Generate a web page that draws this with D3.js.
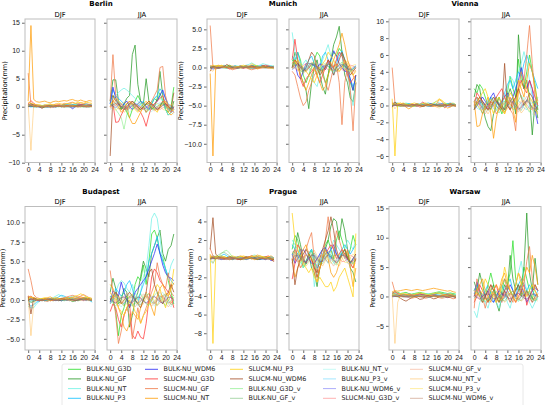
<!DOCTYPE html>
<html><head><meta charset="utf-8">
<script src="https://cdn.jsdelivr.net/npm/d3@7"></script>
<style>
body{margin:0;background:#fff}
svg{display:block;font-family:"DejaVu Sans",sans-serif}
</style></head><body><svg id="chart" width="546" height="405"></svg>
<script>
const hours = [0,1,2,3,4,5,6,7,8,9,10,11,12,13,14,15,16,17,18,19,20,21,22,23]
const seasons = ['DJF', 'JJA']
const cities = ['Berlin', 'Munich', 'Vienna', 'Budapest', 'Prague', 'Warsaw']
const seriesNames = ['BULK-NU_G3D', 'BULK-NU_GF', 'BULK-NU_NT', 'BULK-NU_P3', 'BULK-NU_WDM6',
  'SLUCM-NU_G3D', 'SLUCM-NU_GF', 'SLUCM-NU_NT', 'SLUCM-NU_P3', 'SLUCM-NU_WDM6',
  'BULK-NU_G3D_v', 'BULK-NU_GF_v', 'BULK-NU_NT_v', 'BULK-NU_P3_v', 'BULK-NU_WDM6_v',
  'SLUCM-NU_G3D_v', 'SLUCM-NU_GF_v', 'SLUCM-NU_NT_v', 'SLUCM-NU_P3_v', 'SLUCM-NU_WDM6_v']
const xTicks = [0, 4, 8, 12, 16, 20, 24]

const berlinTicks = [-10, -5, 0, 5, 10, 15]
const munichTicks = [-10, -7.5, -5, -2.5, 0, 2.5, 5]
const viennaTicks = [-6, -4, -2, 0, 2, 4, 6, 8, 10]
const budapestTicks = [-5, -2.5, 0, 2.5, 5, 7.5, 10]
const pragueTicks = [-8, -6, -4, -2, 0, 2, 4]
const warsawTicks = [-5, 0, 5, 10, 15]

// one row per series (same order as seriesNames), one value per hour
const berlinDJF = [
  [.3,.2,.1,.1,0,.1,.2,.1,0,.1,.2,.1,.2,.3,.2,.3,.2,.3,.4,.3,.2,.3,.4,.3],
  [.1,0,.1,.2,.1,-.1,0,.1,.2,.1,0,.1,.2,.1,.3,.2,.1,.2,.3,.2,.1,.2,.3,.2],
  [.2,.4,.3,.2,.1,.2,.3,.2,.1,0,.1,.2,.3,.4,.3,.2,.3,.4,.5,.4,.3,.4,.3,.2],
  [.3,.5,.4,.3,.2,.1,.2,.3,.2,.3,.2,.1,.2,.3,.4,.5,.4,.3,.2,.3,.4,.5,.4,.3],
  [.1,.3,.2,.1,0,.1,0,-.1,0,.1,.2,.1,0,.1,.2,.1,-.4,0,.2,.3,.2,.1,.2,.1],
  [.5,1.1,.6,.3,.2,.1,.2,.1,0,.1,.2,.3,.2,.1,.2,.3,.2,.1,.3,.4,.3,.2,.3,.2],
  [6,.5,.4,.3,.2,.1,.3,.2,.4,.3,.5,.4,.3,.6,.5,.7,.8,.6,.5,.7,.6,.5,.4,.5],
  [1,14.5,1.3,.9,.8,.9,1,.8,.7,.9,1,.9,1,1.1,1,1.2,1.3,1.1,1,1.2,1,.9,1.1,1],
  [.8,.6,.5,.3,.4,.2,.3,.4,.5,.3,.4,.6,.5,.4,.6,.5,.7,.6,.8,.7,.6,.8,.7,.6],
  [.4,.5,.3,.1,0,-.3,0,.1,.2,.1,0,.1,.2,.3,.2,.1,.3,.2,.1,.2,.3,.2,.1,.2],
  [.1,.1,0,0,.1,0,-.1,0,.1,0,0,.1,0,-.1,0,.1,0,0,.1,0,-.1,0,.1,0],
  [0,.1,0,-.1,0,.1,0,0,-.1,0,.1,0,0,.1,0,-.1,0,.1,0,0,.1,0,-.1,0],
  [.2,.1,0,.1,.2,.1,0,-.1,0,.1,0,.1,.2,.1,0,.1,0,-.1,0,.1,.2,.1,0,.1],
  [.1,0,-.1,0,.1,.2,.1,0,.1,0,-.1,0,.1,.1,0,.1,.2,.1,0,.1,0,.1,.2,.1],
  [0,0,.1,0,-.1,0,.1,.1,0,-.1,0,.1,0,.1,0,0,-.1,0,.1,0,.1,0,0,.1],
  [.1,.2,.1,0,.1,0,0,.1,0,-.1,0,.1,.1,0,.1,0,.1,0,-.1,0,.1,0,.1,0],
  [.5,.3,.2,.1,0,.1,0,-.1,.1,0,.1,.2,.1,0,.1,.2,.1,0,.1,.2,.1,0,.1,0],
  [.4,-7.8,.3,0,.2,.1,0,.2,-.2,0,.1,.2,0,.1,.2,.3,.2,.1,0,.1,.2,.1,0,.1],
  [.2,.3,.1,0,.1,.2,.1,0,.1,.2,.1,0,.1,.2,.1,0,.1,.2,.1,0,.1,.2,.1,0],
  [.1,.2,0,.1,0,-.1,0,.1,0,.1,0,.1,0,-.1,0,.1,0,.1,0,.1,0,-.1,0,.1]
]
const berlinJJA = [
  [1,2,1.5,.5,-.5,0,-1,-2,-.5,1,2,1,0,-1,-.5,.5,1.5,1,2.5,1,-.5,-1,0,3.5],
  [1,4.8,4.8,1,-.5,.5,1.5,2,9.3,11,4,1,.5,5,1,-.5,0,1.5,6.3,2,-.5,-1.5,-1,1],
  [.5,1.5,2,2.5,3,3.3,3,2.5,2,1.5,1,.5,0,-.5,0,1,1.5,2,1.5,1,-.5,-1.5,-1,-.5],
  [.5,3,2,1.5,1,.5,0,.5,1,.5,0,.5,1,0,-.5,.5,1.5,2,3.2,2.5,1.5,.5,0,-.5],
  [.5,3.5,1.5,.5,0,.5,1,0,-.5,0,.5,1,.5,0,-.5,0,.5,1,2,3,1.5,0,-.5,-1],
  [0,.5,-2.8,-2.7,-1.5,-.5,.5,1,.5,0,-.5,-1,-2,-3.5,-1.5,0,.5,1,1.5,2,.5,-.5,-1,0],
  [1,9.3,2,1,.5,0,-.5,.5,1,.5,0,-.5,0,-1,0,1,2,3,7,7.2,2,0,-1,-.5],
  [0,1,.5,0,-1,-.5,0,-2,-3,-3,-2,-1,0,.5,1,.5,0,-.5,0,1,.5,-1,-1.5,-1],
  [.5,1,1.5,1,.5,0,.5,1,.5,-.5,-1,0,.5,1,.5,0,-.5,-1,0,.5,1,0,-.5,-.8],
  [-8.8,2,1,.5,0,-.5,0,.5,1,.5,0,-.5,0,.5,1,.5,0,-.5,0,1,.5,0,-.5,2.5],
  [.5,.2,-.5,-1.2,-2,-4,-1.5,0,.4,.3,-.2,-.6,0,.5,.3,-.2,-.4,.1,.3,.6,.2,-.3,-.6,0],
  [.3,.6,.1,-.4,-.2,.1,.5,.7,.2,-.3,-.7,-.2,.4,.5,.1,-.3,-.6,-.1,.4,.7,.1,-.4,-.3,.1],
  [-.6,0,.6,1.1,.4,-.1,-.5,-1,-.4,.2,.6,1,.3,-.1,-.6,-.9,-.3,.1,.5,.9,.2,-.4,-.9,-1.4],
  [.2,.4,.7,.2,-.1,-.3,-.7,-.2,.1,.4,.5,.2,-.1,-.4,-.5,-.2,.2,.5,.7,.3,-.1,-.5,-.7,-.2],
  [.4,.1,-.2,.3,.5,.1,-.3,-.1,.2,.6,.3,-.2,-.5,-.1,.3,.4,0,-.4,-.2,.2,.5,.2,-.3,-.1],
  [-.3,-.1,.3,.6,.2,-.2,-.6,-.3,.1,.4,.2,-.1,-.4,-.2,.2,.5,.3,-.1,-.5,-.2,.1,.4,.2,-.2],
  [.8,1.2,.5,-.2,-.6,-.1,.4,.9,.5,-.1,-.5,-.2,.3,.8,.4,-.3,-.8,-.2,.5,1,.4,-.2,-.7,-.4],
  [.1,.7,1.2,.5,-.4,-1,-.6,.2,.8,.4,-.3,-.8,-.4,.3,.9,.5,-.2,-.7,-.3,.4,.9,.3,-.3,-.6],
  [.3,-.2,-.6,-.2,.4,.8,.3,-.3,-.7,-.1,.5,.7,.2,-.4,-.6,0,.5,.6,.1,-.5,-.6,0,.4,.5],
  [-.2,.3,.6,.4,-.1,-.5,-.3,.2,.6,.3,-.2,-.5,-.1,.4,.6,.2,-.3,-.6,-.2,.3,.5,.1,-.4,-.3]
]
const munichDJF = [
  [0,.1,.2,.1,0,.1,.2,.3,.1,0,.1,.2,.1,0,.1,.2,.3,.2,.1,.2,.1,0,.1,.2],
  [-.1,0,.1,.2,.1,0,-.1,0,.1,.2,.1,0,.1,0,-.1,0,.1,.2,.1,0,.1,.2,.1,0],
  [.2,.1,0,.1,.2,.3,.2,.1,0,.1,.2,.1,.2,.3,.4,.6,.4,.2,.3,.5,.4,.3,.2,.1],
  [.1,0,-.1,0,.1,.2,.1,0,.1,.2,.1,0,-.1,.1,.2,.3,.2,.1,.2,.3,.2,.1,.2,.1],
  [0,-.2,-.1,0,.1,.2,.1,0,-.1,0,.1,.2,.1,.2,.1,0,-.1,0,.1,.2,.1,0,.1,0],
  [.2,.1,0,.1,.2,.1,0,-.2,-.1,0,.1,0,-.1,0,.1,.2,.1,0,.1,.2,.3,.2,.1,0],
  [5.5,0,-.2,-.1,0,.1,0,-.1,-.3,-.2,-.1,0,.1,0,-.2,-.3,-.2,-.1,0,.1,0,-.1,0,-.1],
  [-.8,-11.6,.2,.3,.2,.1,0,.1,.2,.1,0,-.1,0,.1,.2,.1,0,-.2,-.1,0,.1,0,-.1,0],
  [.1,.3,.2,.1,.3,.2,.1,.2,.1,0,.1,.2,.3,.2,.1,.5,.3,.2,.1,.2,.1,0,.1,-.2],
  [-.5,.2,0,-.1,0,.1,.4,.2,.1,0,-.1,0,.1,.2,.1,.2,.1,0,.1,.2,.1,0,.1,0],
  [0,.1,0,-.1,0,.1,.1,0,-.1,0,.1,0,0,.1,0,-.1,0,.1,0,0,.1,0,-.1,0],
  [.1,0,0,.1,0,-.1,0,.1,0,0,-.1,0,.1,0,0,.1,0,-.1,0,.1,0,0,.1,0],
  [0,-.1,0,.1,.1,0,-.1,0,.1,.1,0,-.1,0,.1,0,-.1,0,.1,.1,0,-.1,0,.1,0],
  [.1,.1,0,-.1,0,.1,0,0,.1,0,-.1,0,.1,.1,0,-.1,0,0,.1,0,-.1,0,.1,0],
  [0,0,.1,0,-.1,0,.1,0,0,-.1,0,.1,0,0,.1,0,-.1,0,.1,0,0,.1,0,-.1],
  [-.1,0,.1,0,0,.1,0,-.1,0,.1,0,0,-.1,0,.1,0,.1,0,-.1,0,.1,0,0,.1],
  [.3,.1,0,-.1,0,.1,0,-.1,-.2,-.1,0,.1,0,-.1,0,.1,0,-.1,0,.1,0,-.1,0,0],
  [-.3,-.5,.1,.2,.1,0,.1,0,-.1,0,.1,.2,.1,0,-.1,0,.1,0,.1,0,-.1,0,.1,0],
  [.1,0,.1,.2,.1,0,.1,0,-.1,0,.1,0,.1,.2,.1,0,-.1,0,.1,0,.1,0,-.1,0],
  [0,.1,0,-.1,0,.1,0,.1,0,-.1,0,.1,0,.1,0,-.1,0,.1,0,-.1,0,.1,0,0]
]
const munichJJA = [
  [1,.5,2,1,-1,-2,-1,0,1,2,1.5,-.5,-2,-1,1,2,1.5,2.5,2,1,-.5,-2,-3,-1],
  [0,2,1,-1,-2,-3,-5.4,-2,0,1,-1,-2.5,-3.5,-1,1,3,4,5.4,2,-1,-2,-4,-4.5,-2],
  [4.6,2,1,0,.5,1,0,-1,-2,-2.5,-1,1,2,3,1.5,0,1,2,1.5,0,-1,-3,-5,-2],
  [1.5,1,2,.5,-.5,0,1,1.5,.5,-1,0,1.5,2,1,0,-1,.5,1.5,2.2,1,0,-1.5,-2.5,-1.5],
  [0,.5,-1,-1.5,-.5,.5,.5,.5,.3,0,.5,.2,-.3,.5,1,2.2,1.5,.5,0,-.5,-.5,-1.5,-3,-1],
  [1,3.7,1,-1.5,-2.5,-1.5,-1,-.5,0,-1,-2,-1,0,1,.5,0,1,2,1.5,.5,-1,-2,-1.5,-1],
  [-.5,-1,-2.5,-4,-5,-4.5,-3,-2,-1,-.5,0,-1,-2,-3,-1.5,0,.5,-2,-7.5,-2,0,-3,-8.3,-2],
  [.5,1,0,-1,-2,-3,-2,-1,0,-1,-2,-3,-2.5,-1,0,1,2,3,4.5,3,1,0,-1,-2],
  [0,.5,1,.5,0,-.5,-1,-1.5,-2,-1,0,.5,1,2,1.5,1,0,-.5,0,1,.5,-.5,-1,-.5],
  [0,1,.5,0,-.5,0,1,2,1.5,0,-1,-.5,0,1,0,-1,0,1,2,1,0,-1,-.5,0],
  [.3,.6,.2,-.4,-.7,-.2,.3,.6,.1,-.3,-.5,.1,.4,.2,-.3,-.6,-.1,.4,.7,.2,-.3,-.6,-.2,.2],
  [-.2,.1,.5,.3,-.2,-.5,-.1,.4,.6,.1,-.4,-.3,.2,.5,.3,-.2,-.5,0,.4,.3,-.1,-.4,-.2,.1],
  [.5,.2,-.3,-.6,-.2,.3,.7,.3,-.2,-.5,-.1,.4,.6,.1,-.4,-.7,-.2,.3,.5,.1,-.3,-.6,-.1,.3],
  [.1,.4,.2,-.2,-.4,0,.3,.5,.2,-.1,-.4,-.2,.2,.4,.1,-.3,-.5,-.1,.3,.4,0,-.3,-.2,.1],
  [-.3,0,.4,.2,-.1,-.3,.1,.4,.2,-.2,-.3,.1,.3,.2,-.1,-.4,0,.3,.4,.1,-.2,-.3,0,.2],
  [.2,-.1,-.4,-.1,.3,.5,.1,-.3,-.5,-.1,.3,.4,0,-.3,-.2,.2,.4,.1,-.3,-.4,0,.3,.2,-.1],
  [.6,.9,.3,-.3,-.8,-.4,.2,.7,.4,-.2,-.7,-.3,.3,.8,.4,-.2,-.6,-.1,.5,.9,.3,-.4,-.9,-.3],
  [-.2,.4,.8,.3,-.3,-.6,-.1,.5,.8,.2,-.4,-.7,-.2,.4,.7,.2,-.3,-.6,0,.6,.8,.1,-.5,-.4],
  [.4,.1,-.3,-.5,0,.4,.6,.1,-.4,-.5,0,.4,.5,0,-.4,-.3,.2,.5,.3,-.2,-.5,-.1,.3,.4],
  [0,.3,.5,.1,-.3,-.4,0,.3,.4,0,-.3,-.4,.1,.4,.3,-.1,-.4,-.2,.2,.5,.2,-.2,-.4,-.1]
]
const viennaDJF = [
  [.1,.2,.1,0,.1,.2,.1,0,-.1,0,.1,.2,.1,0,.1,.2,.1,0,.1,.2,.1,0,.1,.1],
  [0,.1,0,-.1,0,.1,.2,.1,0,.1,0,-.1,0,.1,.2,.1,0,-.1,0,.1,.2,.1,0,0],
  [.2,.4,.3,.1,.2,.3,.2,.1,0,.1,.2,.3,.2,.1,.2,.3,.5,.3,.2,.3,.2,.1,.2,.1],
  [.1,.3,.2,.1,0,.1,.2,.1,0,-.1,0,.1,.2,.3,.2,.1,.2,.1,0,.1,.2,.3,.2,.1],
  [0,.1,0,.1,.2,.1,0,-.1,0,.1,0,-.1,0,.1,.2,.1,0,.1,.2,.1,0,-.1,0,.1],
  [.3,.1,0,.1,.2,.1,0,.1,0,-.1,.1,.4,.2,0,-.1,0,.1,.2,.1,-.2,0,.2,.1,0],
  [4.5,.3,.1,0,-.1,0,.1,.2,.1,0,-.2,-.1,0,.1,0,-.1,0,.2,.1,-.3,0,.1,0,-.1],
  [.2,.1,.2,.3,.1,-.2,-.4,-.2,0,.1,0,-.1,0,.1,0,-.1,.2,.7,.5,0,-.3,-.2,0,.1],
  [.8,-6,.3,.2,.3,.1,0,.2,.3,.2,.1,.2,.3,.2,.1,.3,.5,.8,.6,.3,.1,.2,.3,.1],
  [-.2,.4,.1,0,.1,0,-.1,0,.1,.2,.1,0,.1,0,-.1,0,.1,0,-.1,0,.1,.2,.1,0],
  [.1,0,-.1,0,.1,.1,0,-.1,0,.1,0,.1,0,-.1,0,.1,.1,0,-.1,0,.1,0,.1,0],
  [0,.1,.1,0,-.1,0,.1,0,0,.1,0,-.1,0,.1,0,0,.1,0,-.1,0,.1,.1,0,-.1],
  [.1,.2,.1,0,.1,0,-.1,0,.1,.2,.1,0,.1,0,-.1,0,.1,.2,.1,0,.1,0,-.1,0],
  [0,.1,0,.1,0,-.1,0,.1,0,.1,.2,.1,0,-.1,0,.1,0,.1,0,-.1,0,.1,.2,.1],
  [-.1,0,.1,0,.1,0,-.1,0,.1,0,0,.1,0,-.1,0,.1,0,0,.1,0,-.1,0,.1,0],
  [.1,0,0,.1,0,-.1,0,.1,.1,0,-.1,0,.1,0,.1,0,-.1,0,.1,0,0,.1,0,-.1],
  [.4,.2,0,-.1,0,.1,0,-.1,0,.1,0,-.1,0,.1,.2,.1,0,-.1,0,.1,0,-.1,0,.1],
  [.3,-.4,.1,0,.1,0,-.1,0,.1,.2,.1,0,-.1,0,.1,0,-.2,-.3,-.1,0,.1,0,-.1,0],
  [.1,.2,.1,0,.1,.2,.1,0,-.1,0,.1,.2,.1,0,.1,0,-.1,0,.1,.2,.1,0,.1,0],
  [0,.1,0,.1,0,-.1,0,.1,0,.1,0,-.1,0,.1,0,.1,0,-.1,0,.1,0,.1,0,-.1]
]
const viennaJJA = [
  [2,1.5,2.5,2,1,0,-.5,.5,1,0,-1,0,1.5,3.5,2,1,5.5,3,2,4,6,4,2.5,-.5],
  [1,2.5,2,0,-1.5,-2.5,-3,-1,0,1,0,-.5,1,2,1,-1,8.4,4,2,3,1,-3.5,.5,-1.5],
  [-.5,1,.5,0,-.5,0,.5,1,0,-.5,0,1,2,3.5,3,2,4,5,6.4,5,3,1,-.5,1],
  [.5,1,.5,-.5,0,.5,1,.5,0,-.5,.5,1.5,2.5,3,2,3,4,3.5,5,6,5,4,3,2],
  [-.5,0,.5,1,.5,0,1,1.5,.5,0,.5,1,1.5,.5,1,2,3,4.5,3,2,3,2,-.5,-2.2],
  [0,1.5,1,.5,0,-.5,0,.5,1,1.5,2,1,0,-.5,0,1,2,3,2,1.5,3,2,1,0],
  [.5,1,0,-1,-.5,0,.5,0,-1,-.5,.5,1,.5,-.5,-1,-3,2,4,3,6,9.5,5,1,0],
  [.5,-2.5,-2.4,-1,0,1,-1,-3.9,-1.5,0,-.5,-1,0,1,-.5,-2,3,2,1,3,5,4,2,.5],
  [-.5,0,1,1.5,2,1,0,-1,.5,1,0,-1,.5,1.5,1,0,1.5,2.5,3,2,1,.5,-.5,-1],
  [-.5,.5,1,.5,0,-.5,.5,1,.5,0,-.5,5,0,-.5,.5,1,2,1,0,.5,1.5,1,0,-.5],
  [.5,.2,-.4,-.9,-.3,.4,.8,.2,-.5,-.9,-.2,.5,.7,.1,-.5,-.3,.6,1.2,.5,-.3,-.8,-.1,.6,.3],
  [-.3,.2,.6,.3,-.2,-.6,-.3,.4,.7,.2,-.4,-.7,-.1,.5,.8,.2,-.3,-.6,.1,.7,.4,-.3,-.8,-.4],
  [.2,.6,.3,-.3,-.8,-.4,.2,.6,.3,-.2,-.5,0,.5,.8,.3,-.3,-.6,.2,1,.6,-.2,-1,-1.4,-.5],
  [.1,-.3,-.5,0,.4,.6,.1,-.4,-.6,-.1,.4,.5,.1,-.3,-.2,.3,.6,.2,-.3,-.5,0,.4,.3,-.1],
  [-.4,-.1,.3,.5,.1,-.3,-.4,.1,.4,.3,-.2,-.5,-.1,.3,.5,.1,-.4,-.3,.2,.6,.3,-.2,-.4,0],
  [.3,.5,.1,-.3,-.5,0,.4,.3,-.1,-.4,-.2,.3,.5,.2,-.2,-.5,-.1,.4,.6,.1,-.4,-.5,0,.3],
  [.7,1,.4,-.4,-1,-.5,.3,.8,.5,-.2,-.7,-.3,.4,.9,.5,-.3,-.8,-.2,.6,1.1,.4,-.5,-1.2,-.6],
  [-.3,.5,.9,.3,-.5,-1,-.4,.3,.9,.4,-.3,-.8,-.4,.3,1,.6,-.2,-.9,-.5,.2,.8,.4,-.4,-.8],
  [.5,.1,-.4,-.6,-.1,.5,.7,.2,-.4,-.6,0,.5,.6,.1,-.4,-.4,.2,.6,.4,-.2,-.6,-.2,.4,.5],
  [-.1,.3,.6,.2,-.3,-.5,-.1,.4,.5,0,-.4,-.4,.2,.5,.3,-.2,-.5,-.1,.3,.6,.2,-.3,-.5,-.2]
]
const budapestDJF = [
  [.2,.3,.2,.1,0,.1,.2,.1,0,-.1,0,.1,.2,.1,.2,.3,.2,.1,0,.1,.2,.3,.2,.1],
  [0,-.3,-.2,0,.1,0,-.1,0,.1,.2,.1,0,-.1,0,.1,0,-.2,-.1,0,.1,0,.2,.1,0],
  [-.8,-1,-1,-.5,-.2,0,.1,0,.2,.3,.5,.7,.5,.3,.2,.3,.5,.4,.2,.1,.3,.2,0,-.2],
  [-.5,-.8,-.6,-.3,-.1,0,-.1,0,.1,0,.2,.4,.6,.5,.3,.2,.1,.2,.3,.2,.1,0,.1,-.3],
  [0,.2,.1,0,-.1,0,.1,.2,.1,0,.1,0,-.1,0,.1,.2,.1,0,.1,.2,.1,0,.1,0],
  [.3,.5,.2,0,-.1,0,.1,0,-.1,0,.1,.2,.1,0,.1,.2,.3,.2,.1,.2,.3,.2,.1,0],
  [4,2.5,.7,.3,.2,0,-.1,-.2,0,.1,0,.1,.2,.3,.4,.5,.6,.5,.4,.5,.7,.5,.3,.2],
  [.5,.3,.2,.1,0,.1,.2,.3,.4,.2,.1,0,.1,.2,.3,.2,.1,.2,.3,.4,.3,.2,.1,0],
  [.2,.4,.3,.2,.1,.2,.3,.2,.1,.2,.3,.2,.1,0,.1,.2,.3,.5,.6,.8,.6,.4,.3,.2],
  [.5,-1.8,.3,.1,0,-.1,0,.1,.2,.1,0,.1,.2,.1,0,.1,0,-.1,0,.1,.2,.1,0,.1],
  [.1,0,-.1,0,.1,.1,0,-.1,0,.1,0,.1,0,-.1,0,.1,.1,0,-.1,0,.1,0,.1,0],
  [0,.1,.1,0,-.1,0,.1,0,0,.1,0,-.1,0,.1,0,0,.1,0,-.1,0,.1,.1,0,-.1],
  [-.3,-.2,0,.1,0,-.1,0,.1,.2,.1,0,.1,0,-.1,0,.1,.2,.1,0,.1,0,-.1,0,.1],
  [-.2,-.1,0,.1,0,.1,0,-.1,0,.1,.2,.1,0,.1,0,-.1,0,.1,0,.1,.2,.1,0,-.1],
  [0,.1,0,-.1,0,.1,0,0,.1,0,-.1,0,.1,0,0,.1,0,-.1,0,.1,0,0,.1,0],
  [.1,0,.1,0,-.1,0,.1,.1,0,-.1,0,.1,0,.1,0,-.1,0,.1,.1,0,-.1,0,.1,0],
  [.6,.3,.1,0,-.1,0,.1,0,-.1,0,.1,0,.1,.2,.1,0,.1,0,-.1,0,.1,0,-.1,0],
  [.3,-4.6,-.5,0,.1,.2,.1,0,.1,.2,.3,.2,.1,.2,.3,.2,.4,.3,.2,.3,.2,.1,0,.1],
  [.1,.2,.1,0,.1,.2,.1,0,-.1,0,.1,.2,.1,0,.1,0,-.1,0,.1,.2,.1,0,.1,0],
  [0,.1,0,.1,0,-.1,0,.1,0,.1,0,-.1,0,.1,0,.1,0,-.1,0,.1,0,.1,0,-.1]
]
const budapestJJA = [
  [.5,0,-1.5,-4.6,-2,-1,.5,-1,0,2,3,2.5,4.5,2,5,8.5,9,8,6,5.5,4,2.5,1,-.5],
  [1,2.8,1.5,-.5,0,1.5,1,-3.5,-2,0,1,3,5,4,3,6,7,8,9,6,5,6.5,7,8.5],
  [0,.5,1,2,2.5,2.2,1.5,1,2,1,0,1,3,4,7,10.5,11.2,10.5,8,5,4,3,4.5,5.3],
  [-.5,0,1.5,1,.5,1,2,2.5,1.5,0,-.5,1,2,3,5,6,7,8.2,6,5,4,3,2.5,2],
  [-.3,1.2,.8,.5,2.3,1,0,-1,0,1,1.5,2,2.5,3,4,5,6,7.2,6,4.5,3.5,3,2.8,2.5],
  [-1.5,-.5,-1,-2.5,-3.5,-2,-1,-.5,-4.5,-5,-4,-4.8,-5,-3,0,3,4,3.5,2.5,2,1.5,1,.5,-1],
  [3.8,1,-2,-5.6,-4,-2,-1,-2,-5,-3,-1,-3,-2,-1,0,1,2,4.8,3,2,1.5,3.5,1,.5],
  [2,1.5,.5,-1,-2,-3.5,-4,-3,-1.5,-2,-2.5,-1,0,1,0,-1,-2,.5,1.5,2,1,.5,1.5,2.2],
  [1,.5,0,-1,-1.5,-2,-1,0,-.5,-1.5,-2,-3,-2,-1.5,-.5,0,1,2,1.5,0,-1,.5,1.5,4],
  [0,.5,1,.5,-.5,0,.5,1,.5,0,-.5,-1,0,1,3.5,4,2,1,0,-.5,.5,1,2,1],
  [.3,-.4,-.8,-.2,.5,.9,.3,-.4,-.8,-.2,.4,.8,.2,-.5,-.7,0,.6,1,.4,-.3,-.7,-.1,.5,.3],
  [-.2,.3,.7,.2,-.4,-.7,-.1,.5,.7,.1,-.5,-.6,0,.6,.8,.2,-.4,-.7,0,.6,.7,0,-.6,-.4],
  [.5,.8,.2,-.5,-.9,-.3,.4,.8,.3,-.4,-.8,-.2,.5,.9,.3,-.3,-.8,-.1,.6,1,.3,-.5,-.9,-.2],
  [-.4,0,.4,.2,-.3,-.5,0,.4,.3,-.2,-.5,-.1,.3,.5,.1,-.3,-.4,.1,.5,.3,-.2,-.4,-.1,.2],
  [.2,-.2,-.4,0,.3,.4,0,-.3,-.3,.1,.4,.2,-.2,-.4,0,.4,.5,.1,-.3,-.4,0,.4,.3,-.1],
  [0,.4,.5,.1,-.3,-.4,0,.4,.4,-.1,-.4,-.2,.2,.5,.3,-.2,-.5,-.1,.4,.5,.1,-.3,-.4,0],
  [.9,.4,-.3,-.8,-.3,.4,.9,.4,-.3,-.9,-.4,.3,.8,.4,-.2,-.8,-.3,.5,1,.5,-.3,-.9,-.4,.3],
  [-.5,.2,.8,.5,-.2,-.8,-.5,.2,.8,.5,-.2,-.9,-.5,.3,.9,.5,-.1,-.7,-.4,.3,.9,.4,-.3,-.7],
  [.2,.5,.2,-.3,-.5,-.1,.4,.5,.1,-.4,-.5,0,.5,.4,-.1,-.5,-.3,.2,.6,.3,-.2,-.5,-.2,.3],
  [.1,-.2,-.4,-.1,.3,.4,.1,-.3,-.4,0,.4,.3,-.1,-.4,-.2,.2,.4,.2,-.2,-.4,-.1,.3,.4,0]
]
const pragueDJF = [
  [.1,.2,.1,0,.1,.2,.1,0,-.1,0,.1,.2,.1,0,.1,.2,.1,0,.1,.2,.1,0,-.1,0],
  [0,.1,0,.1,.2,.1,0,-.1,0,.1,0,-.1,0,.1,.2,.1,0,-.1,0,.1,.2,.1,0,-.1],
  [-.2,-.5,0,.2,.3,.2,.1,0,.1,.2,.1,0,.1,.2,.1,.3,.4,.3,.2,.1,.2,.1,0,-.1],
  [.1,.3,.2,.1,.3,.5,.3,.1,0,.1,.2,.1,0,.1,.2,.1,0,.1,.2,.1,0,.1,.2,.1],
  [0,.2,.1,0,-.1,0,.1,0,-.1,0,.1,0,.1,.2,.1,0,.1,0,-.1,0,.1,0,-.2,-.1],
  [.2,.1,0,.1,.2,.1,0,.1,.2,.1,0,-.1,0,.1,.2,.3,.2,.1,0,.1,.2,.3,.1,-.2],
  [1.1,.3,.2,.1,0,.1,0,-.1,0,.1,.2,.1,0,-.1,0,.1,.2,.1,0,.1,.2,.1,0,-.3],
  [.3,.2,.1,.2,.1,0,.1,.2,.1,0,.2,.3,.2,.1,.2,.3,.2,.4,.3,.2,.1,.2,.3,.1],
  [.5,-9.1,.3,.2,.3,.2,.1,.2,.3,.2,.1,.2,.3,.2,.1,.2,.3,.2,.3,.2,.1,.2,.1,0],
  [1,4.4,.5,.2,.1,0,.1,.2,.1,0,-.1,0,.1,.2,.1,0,.1,.2,.1,0,-.1,0,-.1,-.3],
  [.1,0,-.1,.2,.5,.8,.9,.6,.2,0,.1,0,-.1,0,.1,.1,0,-.1,0,.1,0,.1,0,0],
  [0,.1,.2,.4,.6,.7,.5,.3,.1,0,0,-.1,0,.1,0,0,.1,0,-.1,0,.1,.1,0,-.1],
  [-.4,-.3,0,.1,0,-.1,0,.1,.2,.1,0,.1,0,-.1,0,.1,.2,.1,0,.1,0,-.1,0,.1],
  [0,.1,0,.1,0,-.1,0,.1,0,.1,.2,.1,0,-.1,0,.1,0,.1,0,-.1,0,.1,.2,.1],
  [-.1,0,.1,0,.1,0,-.1,0,.1,0,0,.1,0,-.1,0,.1,0,0,.1,0,-.1,0,.1,0],
  [.1,0,0,.1,0,-.1,0,.1,.1,0,-.1,0,.1,0,.1,0,-.1,0,.1,0,0,.1,0,-.1],
  [.4,.2,0,-.1,0,.1,0,-.1,0,.1,0,-.1,0,.1,.2,.1,0,-.1,0,.1,0,-.1,0,.1],
  [.2,-.5,.1,0,.1,0,-.1,0,.1,.2,.1,0,-.1,0,.1,0,-.1,0,.1,0,.1,0,-.1,0],
  [.1,.2,.1,0,.1,.2,.1,0,-.1,0,.1,.2,.1,0,.1,0,-.1,0,.1,.2,.1,0,.1,0],
  [0,.1,0,.1,0,-.1,0,.1,0,.1,0,-.1,0,.1,0,.1,0,-.1,0,.1,0,.1,0,-.1]
]
const pragueJJA = [
  [1,2.5,2,.5,-1,-.5,.5,1,-.5,-2,-1,0,1.5,2,1,0,2,3,2,1,0,1,2.5,1.5],
  [.5,1,2.8,1.5,0,-.5,.5,-1,-1.5,-3,-1,0,1,2,3.5,4.3,4,2,4.3,3,1,-1,-1.5,-2.5],
  [2,1.5,1,0,-1,-.5,.5,1,-3,-1,.5,1,0,-.5,1,2,1.5,1,.5,1,2,1.5,1,2],
  [1.5,1,.5,1,0,-.5,.5,1,0,-1,-.5,.5,1,.5,0,1,.5,0,1,1.5,1,.5,1,1.5],
  [.5,-.5,0,.5,1,.5,0,-.5,-.5,0,.5,1,1.2,.5,1,1.5,.5,0,.5,1,0,-.5,0,.5],
  [-2.2,-.5,1.5,1,0,-.5,.5,0,-1,-2,-1,0,.5,1,1.5,1,0,.5,1,.5,0,-.5,-1,0],
  [-.5,1,0,-1,-.5,1,2,2.8,0,-1.5,-1,0,2,4.5,2,1,3,2,1,0,1,-.5,-1,0],
  [0,-2,-1,0,1,1.5,.5,0,-1.5,-2.5,-1,0,1,0,-1.5,-2,-1.5,-.5,.5,1,.5,-1,-3,-1],
  [4.9,2,1,0,-.5,-1,-1.5,-1,-2,-2.5,-2,-2.5,-3,-3,-2.5,-3.5,-3,-2,-1.5,-1,-2,-3,-4.1,2.7],
  [0,-2.8,-1,0,.5,1,.5,0,-1,-1.5,0,1,2,3,4.5,3,1,0,.5,1,0,-.5,0,.5],
  [.3,.7,.2,-.4,-.8,-.2,.4,.8,.3,-.4,-.7,-.1,.5,.8,.2,-.4,-.7,0,.6,.9,.3,-.4,-.6,0],
  [-.4,0,.5,.3,-.2,-.6,-.2,.4,.6,.1,-.4,-.5,0,.5,.4,-.1,-.5,-.2,.3,.6,.2,-.3,-.5,-.1],
  [.6,.3,-.2,-.6,-.3,.3,.7,.3,-.3,-.7,-.2,.4,.7,.2,-.4,-.6,0,.5,.7,.1,-.5,-.6,-.1,.4],
  [.1,.4,.3,-.1,-.4,-.2,.2,.4,.2,-.2,-.4,0,.4,.3,-.1,-.4,-.2,.3,.5,.2,-.2,-.4,0,.3],
  [-.2,.1,.4,.2,-.2,-.4,0,.3,.4,0,-.3,-.3,.1,.4,.2,-.2,-.4,0,.4,.3,-.1,-.4,-.1,.2],
  [.3,0,-.3,-.2,.2,.4,.1,-.3,-.4,0,.3,.3,-.1,-.4,-.1,.3,.4,0,-.3,-.3,.1,.4,.2,-.2],
  [.8,.3,-.4,-.9,-.4,.3,.8,.4,-.3,-.8,-.3,.4,.9,.3,-.4,-.8,-.2,.5,.9,.3,-.4,-.8,-.3,.4],
  [-.3,.4,.9,.4,-.3,-.8,-.4,.4,.9,.3,-.4,-.8,-.2,.5,.8,.2,-.5,-.8,-.1,.6,.8,.1,-.6,-.5],
  [.4,.1,-.3,-.4,0,.4,.4,0,-.4,-.4,.1,.5,.3,-.2,-.5,-.1,.4,.5,.1,-.4,-.4,.1,.5,.2],
  [0,.3,.4,0,-.3,-.4,0,.4,.3,-.1,-.4,-.2,.2,.4,.2,-.2,-.4,-.1,.3,.4,0,-.3,-.3,.1]
]
const warsawDJF = [
  [.6,.8,.7,.5,.6,.7,.5,.4,.5,.6,.7,.6,.5,.4,.5,.6,.7,.8,.7,.6,.5,.6,.5,.4],
  [.4,.5,.3,.2,.3,.4,.3,.2,.3,.4,.5,.4,.3,.2,.3,.4,.5,.6,.5,.4,.3,.4,.3,.2],
  [.2,.5,.4,.3,.2,.3,.4,.3,.2,.1,.2,.3,.4,.5,.4,.3,.2,.3,.4,.5,.4,.3,.2,.3],
  [.3,.2,.1,.2,.3,.2,.1,0,.1,.2,.3,.2,.1,.2,.3,.4,.3,.2,.1,.2,.3,.2,.1,0],
  [.1,.3,.2,.1,0,.1,.2,.1,0,.1,.2,.3,.2,.1,0,.1,.2,.1,.2,.3,.2,.1,0,-.1],
  [.5,.8,.5,.3,.2,.3,.4,.3,.2,.3,.4,.3,.2,.1,.2,.3,.2,.1,.2,.3,.4,.3,.2,.1],
  [2.5,.8,.5,.3,.1,0,-.2,-.3,-.2,0,.1,-.1,-.3,-.2,0,.1,0,-.2,-.3,-.2,-.1,-.2,-.4,-.3],
  [.8,1,.9,1,1.1,1.2,1.1,1,1.1,1.2,1.1,1,1.1,1.2,1.3,1.4,1.3,1.2,1.1,1,.9,1,.8,.7],
  [.4,.3,.2,.4,.5,.4,.3,.2,.3,.5,.6,.5,.4,.3,.4,.5,.6,.5,.4,.3,.2,.3,.2,.1],
  [.2,.1,0,-.3,-.6,-.8,-.5,-.2,0,-.2,-.5,-.4,-.1,0,-.2,-.4,-.3,0,.2,0,-.2,-.1,0,-.2],
  [.1,0,-.1,0,.1,.1,0,-.1,0,.1,0,.1,0,-.1,0,.1,.1,0,-.1,0,.1,0,.1,0],
  [0,.1,.1,0,-.1,0,.1,0,0,.1,0,-.1,0,.1,0,0,.1,0,-.1,0,.1,.1,0,-.1],
  [.1,.2,.1,0,.1,0,-.1,0,.1,.2,.1,0,.1,0,-.1,0,.1,.2,.1,0,.1,0,-.1,0],
  [0,.1,0,.1,0,-.1,0,.1,0,.1,.2,.1,0,-.1,0,.1,0,.1,0,-.1,0,.1,.2,.1],
  [-.1,0,.1,0,.1,0,-.1,0,.1,0,0,.1,0,-.1,0,.1,0,0,.1,0,-.1,0,.1,0],
  [.1,0,0,.1,0,-.1,0,.1,.1,0,-.1,0,.1,0,.1,0,-.1,0,.1,0,0,.1,0,-.1],
  [.8,.4,.1,0,-.1,0,.1,0,-.1,0,.1,0,-.1,0,.1,.2,.1,0,-.1,0,.1,0,-.1,0],
  [.3,-8,-1,.2,.4,.3,.2,.1,.2,.3,.2,.1,0,.1,.2,.1,0,.1,.2,.1,0,.1,.2,.1],
  [.1,.2,.1,0,.1,.2,.1,0,-.1,0,.1,.2,.1,0,.1,0,-.1,0,.1,.2,.1,0,.1,0],
  [0,.1,0,.1,0,-.1,0,.1,0,.1,0,-.1,0,.1,0,.1,0,-.1,0,.1,0,.1,0,-.1]
]
const warsawJJA = [
  [1,2,1,-1,0,2,4,2,0,-1,1,3,2,4,9.5,3,1,2,5,3,1,-.5,2,1],
  [2.5,1,4,2,0,-1,1,2,-1,-2.5,0,2,1,7,3,1,2,0,5,14.2,4,1,6.5,2],
  [-2.5,-3.6,-1,0,-1,-2,0,1,-1,-2,0,1,-1,-2,0,2,4,6,3,1,-1,-2,-1,0],
  [1,2,1,0,1,2,.5,-1,0,1,2,1,2,3,1,0,2,3,2,1,2,1,0,1],
  [0,2.5,1,-.5,0,1,-.5,-1,0,1,.5,0,1,2,1,0,1,2,.5,-1,0,1,1.5,1],
  [-1,0,2,1,0,-1,0,1,2,0,-1,1,2,1,0,-1,0,1,2,-1.5,0,1,2,1],
  [-2,3,1,0,-2,0,2,1,-1,0,2,3,1,0,-1,2,4,3,2,6,8.5,3,1,0],
  [0,1,2,3,1,0,-1,1,2,1,3,4,2,1,0,-1,1,2,3,5,4,7,5,2],
  [1,.5,0,1,3,2,1,0,-1,0,2,5,3,1,0,2,4,2,1,0,1,2,1,0],
  [.5,1,0,-1,0,1,2,1,0,-1,0,1,0,-1,0,1,2,1,0,1,0,-1,0,.5],
  [.4,.8,.2,-.5,-.9,-.2,.5,.9,.3,-.4,-.8,-.1,.6,1,.3,-.4,-.8,0,.7,1.1,.3,-.5,-.7,0],
  [-.3,.2,.7,.4,-.2,-.7,-.3,.4,.8,.2,-.5,-.8,-.1,.6,.9,.2,-.5,-.7,.1,.8,.6,-.2,-.7,-.4],
  [.6,.9,.3,-.5,-1,-.4,.4,.9,.4,-.4,-.9,-.2,.5,1,.4,-.4,-.9,-.1,.7,1.2,.4,-.6,-1,-.3],
  [-.2,.2,.5,.2,-.2,-.5,-.1,.4,.4,0,-.4,-.3,.2,.5,.2,-.3,-.5,0,.5,.4,-.1,-.5,-.2,.2],
  [.3,-.1,-.4,0,.4,.4,0,-.4,-.3,.1,.4,.2,-.2,-.4,0,.4,.5,.1,-.3,-.4,0,.4,.3,-.1],
  [.1,.4,.4,0,-.4,-.4,0,.4,.4,-.1,-.4,-.2,.3,.5,.2,-.3,-.5,-.1,.4,.5,.1,-.3,-.4,0],
  [1,.4,-.4,-1,-.4,.4,1,.5,-.3,-.9,-.4,.4,.9,.4,-.3,-.9,-.3,.6,1.1,.5,-.4,-1,-.5,.3],
  [-.6,.3,.9,.5,-.3,-.9,-.5,.3,.9,.5,-.3,-1,-.5,.4,1,.5,-.2,-.8,-.4,.4,1,.4,-.4,-.8],
  [.3,.6,.2,-.3,-.6,-.1,.5,.6,.1,-.5,-.5,.1,.6,.4,-.2,-.6,-.3,.3,.7,.3,-.3,-.6,-.2,.4],
  [.2,-.2,-.5,-.1,.4,.5,.1,-.4,-.5,0,.5,.4,-.1,-.5,-.2,.3,.5,.2,-.3,-.5,-.1,.4,.5,0]
]

const cityData = {
  Berlin: [berlinDJF, berlinJJA], Munich: [munichDJF, munichJJA], Vienna: [viennaDJF, viennaJJA],
  Budapest: [budapestDJF, budapestJJA], Prague: [pragueDJF, pragueJJA], Warsaw: [warsawDJF, warsawJJA]
}
const cityTicks = {
  Berlin: berlinTicks, Munich: munichTicks, Vienna: viennaTicks,
  Budapest: budapestTicks, Prague: pragueTicks, Warsaw: warsawTicks
}

// styles
const baseColors = ['#2fe02f', '#2e9e2e', '#74f2e6', '#19c4ff', '#2f2ff5',
  '#ff3c3c', '#f08050', '#ffa214', '#ffd21c', '#a8552e']
const color = i => baseColors[i % 10]
const opacity = i => (i < 10 ? 0.85 : 0.4)

const fmtMinus = s => s.replace('-', '\u2212')
const tickFormats = {
  Munich: d => fmtMinus(d3.format('.1f')(d)),
  Budapest: d => fmtMinus(d3.format('.1f')(d))
}

const svg = d3.select('#chart')
const blockW = 182, rowH = 187.5
const panelW = 70, panelH = 143.5
const panelX = [25, 107]
const topY = 19

const x = d3.scaleLinear().domain([-1.15, 24.15]).range([0, panelW])

function drawPanel (g, y, series, showLabels, fmt, ticks) {
  g.append('g')
    .attr('transform', `translate(0,${panelH})`)
    .call(d3.axisBottom(x).tickValues(xTicks).tickSize(3).tickPadding(2))
    .call(a => a.select('.domain').remove())

  const yAxis = g.append('g')
    .call(d3.axisLeft(y).tickValues(ticks).tickSize(3).tickPadding(2)
      .tickFormat(showLabels ? fmt : ''))
    .call(a => a.select('.domain').remove())

  g.selectAll('.tick line').attr('stroke', '#444').attr('stroke-width', 0.8)
  g.selectAll('.tick text').attr('fill', '#222').style('font-size', '7px')

  const line = d3.line().x((d, i) => x(hours[i])).y(d => y(d))
  g.append('g').selectAll('path')
    .data(series)
    .join('path')
    .attr('d', line)
    .attr('fill', 'none')
    .attr('stroke', (d, i) => color(i))
    .attr('stroke-opacity', (d, i) => opacity(i))
    .attr('stroke-width', 0.9)

  g.append('rect')
    .attr('width', panelW).attr('height', panelH)
    .attr('fill', 'none').attr('stroke', '#bdbdbd').attr('stroke-width', 1)

  return yAxis
}

cities.forEach((city, ci) => {
  const bx = (ci % 3) * blockW
  const by = Math.floor(ci / 3) * rowH
  const [djf, jja] = cityData[city]
  const [lo, hi] = d3.extent(djf.concat(jja).flat())
  const pad = (hi - lo) * 0.05
  const y = d3.scaleLinear().domain([lo - pad, hi + pad]).range([panelH, 0])
  const fmt = tickFormats[city] || (d => fmtMinus(String(d)))

  svg.append('text')
    .attr('x', bx + (panelX[0] + panelX[1] + panelW) / 2)
    .attr('y', by + 6.3)
    .attr('text-anchor', 'middle')
    .style('font-size', '7px').style('font-weight', 'bold')
    .text(city)

  seasons.forEach((season, si) => {
    const g = svg.append('g')
      .attr('transform', `translate(${bx + panelX[si]},${by + topY})`)
    const yAxis = drawPanel(g, y, si === 0 ? djf : jja, si === 0, fmt, cityTicks[city])

    g.append('text')
      .attr('x', panelW / 2).attr('y', -2.3)
      .attr('text-anchor', 'middle')
      .style('font-size', '6.8px')
      .text(season)

    if (si === 0) {
      // matplotlib puts the ylabel just left of the widest tick label
      const bb = yAxis.node().getBBox()
      g.append('text')
        .attr('transform', `translate(${bb.x - 1.5},${panelH / 2}) rotate(-90)`)
        .attr('text-anchor', 'middle')
        .style('font-size', '6.6px')
        .text('Precipitation(mm)')
    }
  })
})

// legend
const legendColX = [68, 145, 230, 323, 410]
const legendRowY = [369.3, 378.9, 388.6, 398.3]
const legend = svg.append('g')
legend.append('rect')
  .attr('x', 62).attr('y', 364).attr('width', 461).attr('height', 46).attr('rx', 2)
  .attr('fill', '#fff').attr('stroke', '#e2e2e2').attr('stroke-width', 0.8)

const items = legend.selectAll('g.item')
  .data(seriesNames)
  .join('g')
  .attr('class', 'item')
  .attr('transform', (d, i) => `translate(${legendColX[Math.floor(i / 4)]},${legendRowY[i % 4]})`)
items.append('line')
  .attr('x1', 0).attr('x2', 13)
  .attr('stroke', (d, i) => color(i))
  .attr('stroke-opacity', (d, i) => opacity(i))
  .attr('stroke-width', 1)
items.append('text')
  .attr('x', 18.5).attr('dy', '0.33em')
  .style('font-size', '6.4px').attr('fill', '#222')
  .text(d => d)
</script></body></html>
